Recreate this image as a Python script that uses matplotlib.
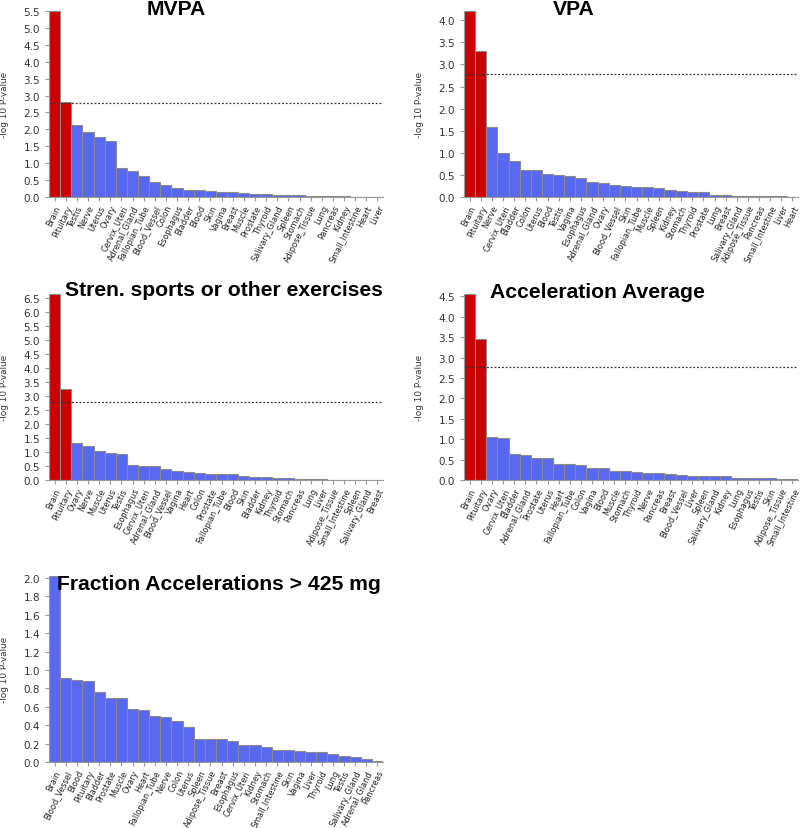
import numpy as np
import matplotlib.pyplot as plt

# Bonferroni threshold for 30 tissues: -log10(0.05/30)
threshold = -np.log10(0.05 / 30)

mvpa_tissues = ["Brain", "Pituitary", "Testis", "Nerve", "Uterus", "Ovary", "Cervix_Uteri",
                "Adrenal_Gland", "Fallopian_Tube", "Blood_Vessel", "Colon", "Esophagus", "Bladder",
                "Blood", "Skin", "Vagina", "Breast", "Muscle", "Prostate", "Thyroid",
                "Salivary_Gland", "Spleen", "Stomach", "Adipose_Tissue", "Lung", "Pancreas",
                "Kidney", "Small_Intestine", "Heart", "Liver"]
mvpa_vals = [5.5, 2.80, 2.12, 1.93, 1.76, 1.66, 0.86, 0.78, 0.62, 0.43, 0.36, 0.26, 0.22,
             0.21, 0.19, 0.16, 0.15, 0.13, 0.10, 0.08, 0.06, 0.06, 0.05, 0.04, 0.03, 0.02,
             0.02, 0.01, 0.005, 0.003]

vpa_tissues = ["Brain", "Pituitary", "Nerve", "Cervix_Uteri", "Bladder", "Colon", "Uterus",
               "Blood", "Testis", "Vagina", "Esophagus", "Adrenal_Gland", "Ovary", "Blood_Vessel",
               "Skin", "Fallopian_Tube", "Muscle", "Spleen", "Kidney", "Stomach", "Thyroid",
               "Prostate", "Lung", "Breast", "Salivary_Gland", "Adipose_Tissue", "Pancreas",
               "Small_Intestine", "Liver", "Heart"]
vpa_vals = [4.21, 3.31, 1.59, 0.99, 0.81, 0.62, 0.61, 0.51, 0.49, 0.47, 0.42, 0.33, 0.31,
            0.28, 0.26, 0.23, 0.22, 0.20, 0.16, 0.14, 0.12, 0.12, 0.045, 0.04, 0.03, 0.03,
            0.025, 0.02, 0.015, 0.01]

stren_tissues = ["Brain", "Pituitary", "Ovary", "Nerve", "Muscle", "Uterus", "Testis",
                 "Esophagus", "Cervix_Uteri", "Adrenal_Gland", "Blood_Vessel", "Vagina", "Heart",
                 "Colon", "Prostate", "Fallopian_Tube", "Blood", "Skin", "Bladder", "Kidney",
                 "Thyroid", "Stomach", "Pancreas", "Lung", "Liver", "Adipose_Tissue",
                 "Small_Intestine", "Spleen", "Salivary_Gland", "Breast"]
stren_vals = [6.65, 3.25, 1.31, 1.22, 1.05, 0.97, 0.92, 0.53, 0.51, 0.49, 0.41, 0.33, 0.30,
              0.25, 0.215, 0.21, 0.20, 0.14, 0.11, 0.10, 0.085, 0.07, 0.035, 0.025, 0.02,
              0.015, 0.01, 0.008, 0.005, 0.003]

accel_tissues = ["Brain", "Pituitary", "Ovary", "Cervix_Uteri", "Bladder", "Adrenal_Gland",
                 "Prostate", "Uterus", "Heart", "Fallopian_Tube", "Colon", "Vagina", "Blood",
                 "Muscle", "Stomach", "Thyroid", "Nerve", "Pancreas", "Breast", "Blood_Vessel",
                 "Liver", "Spleen", "Salivary_Gland", "Kidney", "Lung", "Esophagus", "Testis",
                 "Skin", "Adipose_Tissue", "Small_Intestine"]
accel_vals = [4.56, 3.45, 1.06, 1.02, 0.63, 0.61, 0.55, 0.54, 0.40, 0.385, 0.36, 0.29, 0.285,
              0.23, 0.21, 0.195, 0.17, 0.17, 0.14, 0.115, 0.105, 0.095, 0.09, 0.088, 0.06,
              0.055, 0.045, 0.04, 0.025, 0.015]

frac_tissues = ["Brain", "Blood_Vessel", "Blood", "Pituitary", "Bladder", "Prostate", "Muscle",
                "Ovary", "Heart", "Fallopian_Tube", "Nerve", "Colon", "Uterus", "Spleen",
                "Adipose_Tissue", "Breast", "Esophagus", "Cervix_Uteri", "Kidney", "Stomach",
                "Small_Intestine", "Skin", "Vagina", "Liver", "Thyroid", "Lung", "Testis",
                "Salivary_Gland", "Adrenal_Gland", "Pancreas"]
frac_vals = [2.02, 0.91, 0.89, 0.875, 0.76, 0.70, 0.695, 0.58, 0.565, 0.50, 0.49, 0.44, 0.385,
             0.255, 0.254, 0.245, 0.23, 0.19, 0.188, 0.165, 0.135, 0.13, 0.12, 0.112, 0.11,
             0.088, 0.065, 0.058, 0.033, 0.007]

RED = "#cc0000"
BLUE = "#5868f0"
GRAY = "#999999"


def draw_panel(ax, title, tissues, vals, ystep, title_x, title_y):
    x = np.arange(len(tissues))
    colors = [RED if v > threshold else BLUE for v in vals]
    ax.bar(x, vals, width=1.0, color=colors, edgecolor="#8a8a8a", linewidth=0.8)
    ax.axhline(threshold, color="#333333", linestyle=(0, (1.5, 1.5)), linewidth=0.9)
    ax.set_xlim(-0.5, len(tissues) - 0.5)
    ax.set_ylim(0, max(vals))
    ax.set_yticks(np.arange(0, max(vals) + 1e-6, ystep))
    ax.yaxis.set_major_formatter(plt.FormatStrFormatter("%.1f"))
    ax.set_xticks(x)
    ax.set_xticklabels(tissues, rotation=64, ha="right", rotation_mode="anchor", fontsize=5.9,
                       color="#222222")
    ax.tick_params(axis="x", pad=1.5)
    ax.tick_params(axis="y", labelsize=7.5, colors="#333333")
    ax.tick_params(axis="both", color=GRAY, length=3, width=0.8)
    for s in ["top", "right"]:
        ax.spines[s].set_visible(False)
    for s in ["left", "bottom"]:
        ax.spines[s].set_color(GRAY)
    ax.set_ylabel("-log 10 P-value", fontsize=6.4, color="#333333")
    ax.yaxis.set_label_coords(-0.12, 0.5)
    ax.text(title_x, title_y, title, transform=ax.transAxes, ha="center", va="center",
            fontsize=15.2, fontweight="bold", family="Liberation Sans")


fig = plt.figure(figsize=(8, 8.29), dpi=100)
h = 186 / 829
w = 334 / 800
xl, xr = 49 / 800, 464 / 800
rows = [1 - 198 / 829, 1 - 481 / 829, 1 - 763 / 829]

ax1 = fig.add_axes([xl, rows[0], w, h])
ax2 = fig.add_axes([xr, rows[0], w, h])
ax3 = fig.add_axes([xl, rows[1], w, h])
ax4 = fig.add_axes([xr, rows[1], w, h])
ax5 = fig.add_axes([xl, rows[2], w, h])

draw_panel(ax1, "MVPA", mvpa_tissues, mvpa_vals, 0.5, 0.38, 1.015)
draw_panel(ax2, "VPA", vpa_tissues, vpa_vals, 0.5, 0.33, 1.015)
draw_panel(ax3, "Stren. sports or other exercises", stren_tissues, stren_vals, 0.5, 0.525, 1.022)
draw_panel(ax4, "Acceleration Average", accel_tissues, accel_vals, 0.5, 0.40, 1.012)
draw_panel(ax5, "Fraction Accelerations > 425 mg", frac_tissues, frac_vals, 0.2, 0.51, 0.962)

fig.savefig("out.png", dpi=100)
